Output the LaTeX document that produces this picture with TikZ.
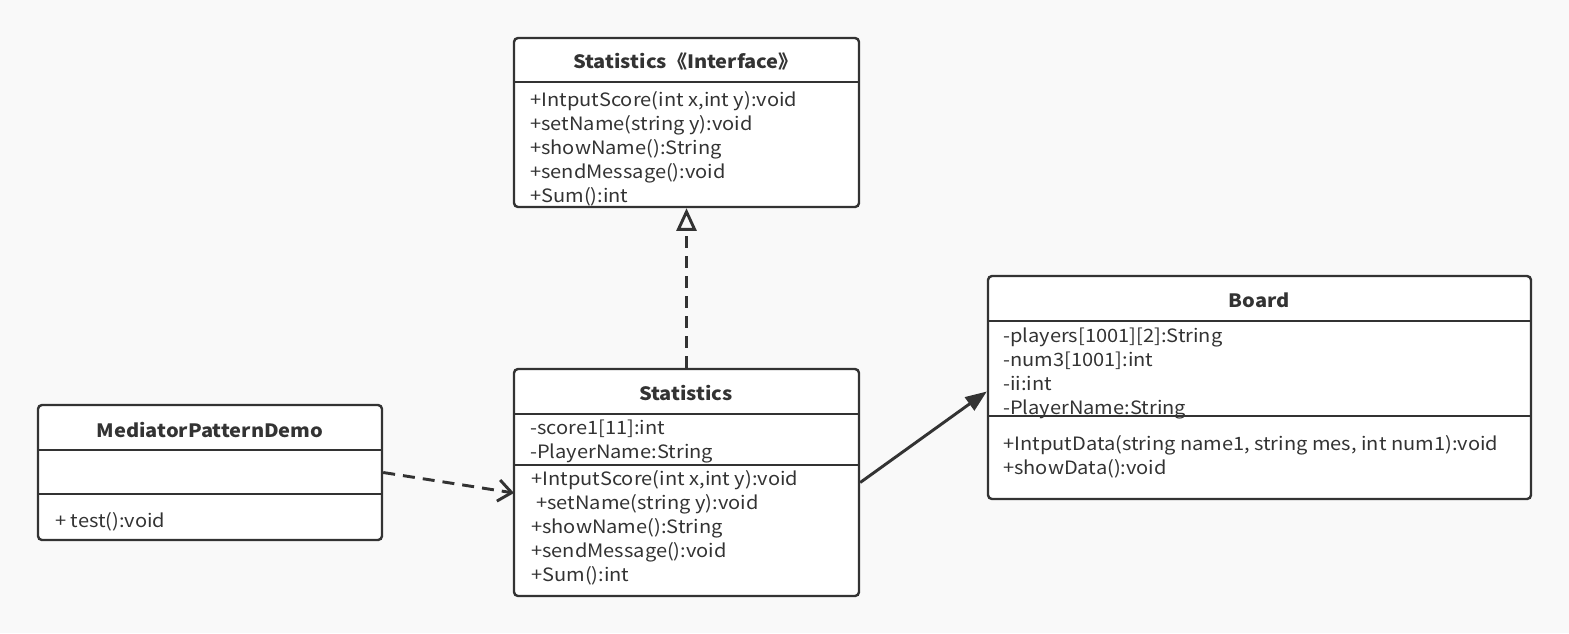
\documentclass[tikz,border=0pt]{standalone}
\usepackage{fontspec}
\setmainfont{Noto Sans CJK SC}[FakeStretch=1.09]
\usetikzlibrary{positioning,arrows.meta,fit}
\definecolor{ink}{HTML}{333333}
\definecolor{paper}{HTML}{F9F9F9}
\tikzset{
	x=0.75pt, y=-0.75pt,
	every node/.style = {font=\fontsize{13.8}{18}\selectfont, text=ink, inner sep=0},
	classbox/.style={draw=ink, fill=white, line width=1.8pt, rounded corners=3pt},
	title/.style={font=\fontsize{13.8}{18}\selectfont\bfseries, anchor=base},
	member/.style={anchor=base west},
	sep/.style={draw=ink, line width=1.8pt},
	realize/.style={draw=ink, line width=2.2pt, dash pattern=on 9pt off 6pt,
		-{Triangle[open, length=17pt, width=15pt, fill=paper]}},
	depend/.style={draw=ink, line width=2.2pt, dash pattern=on 9pt off 6pt,
		-{Straight Barb[length=10pt, width=16pt]}},
	assoc/.style={draw=ink, line width=2.2pt, -{Triangle[length=16pt, width=12pt]}}
}

\begin{document}
\begin{tikzpicture}
	\fill[paper] (0,0) rectangle (1569,633);
	\useasboundingbox (0,0) rectangle (1569,633);

	% boxes
	\node(iface)[classbox, fit={(514,38) (859,207)}] {};
	\node(stats)[classbox, fit={(514,369) (859,596)}] {};
	\node(med)[classbox, fit={(38,405) (382,540)}] {};
	\node(board)[classbox, fit={(988,276) (1531,499)}] {};

	\draw[sep] (514,82) -- (859,82);
	\draw[sep] (514,414) -- (859,414);
	\draw[sep] (514,465) -- (859,465);
	\draw[sep] (38,450) -- (382,450);
	\draw[sep] (38,494) -- (382,494);
	\draw[sep] (988,321) -- (1531,321);
	\draw[sep] (988,416) -- (1531,416);

	% interface
	\node(ifaceTitle)[title] at (686,68) {Statistics《Interface》};
	\node(ifaceA)[member] at (530,106) {+IntputScore(int x,int y):void};
	\node(ifaceB)[member] at (530,130) {+setName(string y):void};
	\node(ifaceC)[member] at (530,154) {+showName():String};
	\node(ifaceD)[member] at (530,178) {+sendMessage():void};
	\node(ifaceE)[member] at (530,202) {+Sum():int};

	% statistics
	\node(statsTitle)[title] at (686,400) {Statistics};
	\node(statsF1)[member] at (530,434) {-score1[11]:int};
	\node(statsF2)[member] at (530,458) {-PlayerName:String};
	\node(statsA)[member] at (531,485) {+IntputScore(int x,int y):void};
	\node(statsB)[member] at (536,509) {+setName(string y):void};
	\node(statsC)[member] at (531,533) {+showName():String};
	\node(statsD)[member] at (531,557) {+sendMessage():void};
	\node(statsE)[member] at (531,581) {+Sum():int};

	% mediator
	\node(medTitle)[title] at (210,437) {MediatorPatternDemo};
	\node(medA)[member] at (55,527) {+ test():void};

	% board
	\node(boardTitle)[title] at (1259,307) {Board};
	\node(boardF1)[member] at (1003,342) {-players[1001][2]:String};
	\node(boardF2)[member] at (1003,366) {-num3[1001]:int};
	\node(boardF3)[member] at (1003,390) {-ii:int};
	\node(boardF4)[member] at (1003,414) {-PlayerName:String};
	\node(boardA)[member] at (1003,450) {+IntputData(string name1, string mes, int num1):void};
	\node(boardB)[member] at (1003,474) {+showData():void};

	% links
	\coordinate(depEnd) at (514,493);
	\path (stats.north) edge[realize] (iface.south);
	\path (med.east) edge[depend] (depEnd);
	\path (stats.east) edge[assoc] ([yshift=-3pt]board.west);
\end{tikzpicture}
\end{document}
